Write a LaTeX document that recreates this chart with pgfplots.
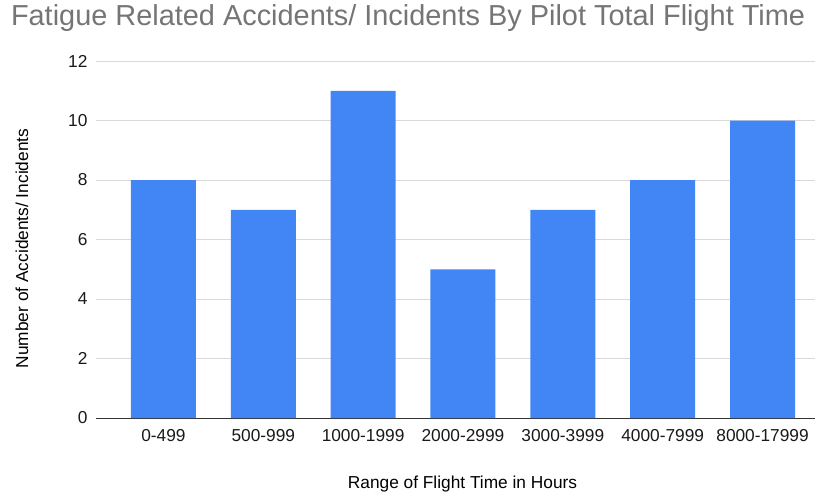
\documentclass[border=0pt]{standalone}
\usepackage{pgfplots}
\pgfplotsset{compat=1.18}
\usepackage{fontspec}
\setmainfont{Liberation Sans}
\definecolor{barblue}{HTML}{4285F4}
\definecolor{gridgray}{HTML}{D9D9D9}
\definecolor{titlegray}{HTML}{757575}
\definecolor{axisgray}{HTML}{333333}
\begin{document}
\begin{tikzpicture}
\useasboundingbox (-96pt,-73pt) rectangle (719pt,418pt);
\begin{axis}[
    scale only axis,
    width=719pt, height=357pt,
    ybar, bar width=65pt,
    xmin=-0.675, xmax=6.525,
    ymin=0, ymax=12,
    ytick={0,2,...,12},
    xtick=data,
    xticklabels={0-499,500-999,1000-1999,2000-2999,3000-3999,4000-7999,8000-17999},
    axis x line*=bottom, axis y line*=left,
    x axis line style={axisgray, line width=1pt, -},
    y axis line style={draw=none},
    ymajorgrids, grid style={gridgray, line width=0.8pt},
    axis on top=false,
    tick style={draw=none},
    ticklabel style={font=\fontsize{17.3}{20}\selectfont, text=black!90},
    xticklabel style={yshift=-4pt},
    yticklabel style={xshift=-5pt},
    /pgf/number format/assume math mode=true,
    xlabel={Range of Flight Time in Hours},
    ylabel={Number of Accidents/ Incidents},
    label style={font=\fontsize{17.3}{20}\selectfont},
    xlabel style={at={(axis description cs:0.5,0)}, anchor=center, xshift=7pt, yshift=-66pt},
    ylabel style={at={(axis description cs:0,0.5)}, anchor=center, xshift=-9pt, yshift=74pt},
    title={Fatigue Related Accidents/ Incidents By Pilot Total Flight Time},
    title style={font=\fontsize{28.9}{32}\selectfont, text=titlegray, at={(axis description cs:0.434,1)}, anchor=center, yshift=37pt},
    clip=false,
]
\addplot[fill=barblue, draw=none] coordinates {
    (0,8) (1,7) (2,11) (3,5) (4,7) (5,8) (6,10)
};
\end{axis}
\end{tikzpicture}
\end{document}
